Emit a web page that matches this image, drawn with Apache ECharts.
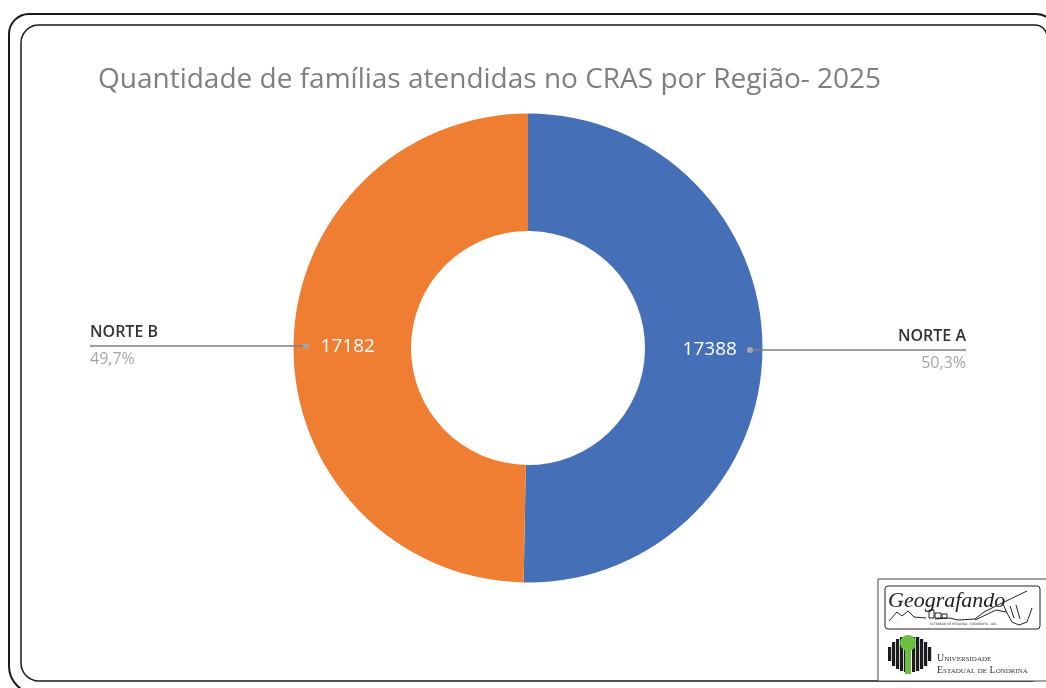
<!DOCTYPE html>
<html>
<head>
<meta charset="utf-8">
<title>Famílias atendidas no CRAS</title>
<style>
  html, body { margin: 0; padding: 0; background: #fff; }
  #chart { width: 1046px; height: 688px; }
</style>
<script src="https://cdn.jsdelivr.net/npm/echarts@6/dist/echarts.min.js"></script>
</head>
<body>
<div id="chart"></div>
<script>
const titleText = 'Quantidade de famílias atendidas no CRAS por Região- 2025'
const regions = ['NORTE A', 'NORTE B']
const families = [17388, 17182]
const colors = ['#4570B7', '#F07E32']
const edgeDistances = [80, 90]
const valueOffsets = [[3, 0], [-1.5, 0]]

const center = [528, 348]
const dotRadius = 222
const total = families[0] + families[1]

// grey dots at the start of each callout, placed from the slice mid angles
function calloutDots() {
  let start = 0
  return families.map(function(v) {
    const mid = (start + v / 2) / total * Math.PI * 2
    start += v
    return {
      type: 'circle',
      silent: true,
      z: 20,
      shape: {
        cx: center[0] + dotRadius * Math.sin(mid),
        cy: center[1] - dotRadius * Math.cos(mid),
        r: 3
      },
      style: { fill: '#a5a5a5' }
    }
  })
}

function frame() {
  return [
    {
      type: 'rect',
      silent: true,
      shape: { x: 9, y: 14, width: 1047, height: 680, r: [20, 20, 0, 28] },
      style: { fill: 'transparent', stroke: '#1a1a1a', lineWidth: 2 }
    },
    {
      type: 'rect',
      silent: true,
      shape: { x: 21, y: 25, width: 1026, height: 656, r: [18, 12, 16, 18] },
      style: { fill: 'transparent', stroke: '#1a1a1a', lineWidth: 1.5 }
    }
  ]
}

function logo() {
  const ink = '#222'
  const stroke = function(points, width) {
    return {
      type: 'polyline',
      silent: true,
      z: 3,
      shape: { points: points },
      style: { fill: 'transparent', stroke: ink, lineWidth: width || 1 }
    }
  }
  const items = [
    { type: 'rect', silent: true, z: 1, shape: { x: 878, y: 579, width: 170, height: 102 }, style: { fill: '#fff', stroke: '#444', lineWidth: 1 } },
    { type: 'rect', silent: true, z: 2, shape: { x: 885, y: 586, width: 155, height: 43, r: 3 }, style: { fill: '#fff', stroke: '#222', lineWidth: 1 } },
    { type: 'text', silent: true, z: 3, style: { x: 888, y: 590, text: 'Geografando', fill: ink, font: 'italic 22px "Liberation Serif"' } },
    { type: 'text', silent: true, z: 3, style: { x: 930, y: 623, text: 'EXTENSÃO DE PESQUISA - GEOGRAFIA - UEL', fill: '#333', font: '3px "DejaVu Sans"' } }
  ]
  const sketches = [
    [[889, 621], [897, 612], [902, 616], [908, 611], [914, 617], [926, 618]],
    [[935, 619], [950, 618], [958, 620], [975, 619], [984, 612], [1002, 603], [1027, 591]],
    [[1003, 604], [1007, 613], [1012, 622], [1019, 625], [1027, 622], [1032, 608]],
    [[1010, 606], [1014, 618]],
    [[1016, 605], [1020, 619]],
    [[975, 620], [996, 610], [1006, 612]]
  ]
  sketches.forEach(function(p) { items.push(stroke(p, 1)) })
  items.push(
    { type: 'rect', silent: true, z: 3, shape: { x: 929, y: 610, width: 5, height: 8 }, style: { fill: 'transparent', stroke: ink, lineWidth: 1 } },
    { type: 'rect', silent: true, z: 3, shape: { x: 935, y: 613, width: 6, height: 5 }, style: { fill: 'transparent', stroke: ink, lineWidth: 1 } },
    { type: 'rect', silent: true, z: 3, shape: { x: 942, y: 614, width: 5, height: 4 }, style: { fill: 'transparent', stroke: ink, lineWidth: 1 } }
  )
  // university mark: vertical stripes around the green tree
  const stripes = [[888, 647, 661], [892, 642, 666], [896, 639, 669], [900, 637, 671], [904, 637, 672], [912, 637, 672], [916, 637, 671], [920, 639, 669], [924, 642, 666], [928, 647, 661]]
  stripes.forEach(function(s) {
    items.push({ type: 'rect', silent: true, z: 3, shape: { x: s[0], y: s[1], width: 3.2, height: s[2] - s[1] }, style: { fill: '#1c1c1c' } })
  })
  items.push(
    { type: 'rect', silent: true, z: 4, shape: { x: 905, y: 645, width: 6, height: 29 }, style: { fill: '#6fbe44' } },
    { type: 'circle', silent: true, z: 4, shape: { cx: 908, cy: 643, r: 8 }, style: { fill: '#6fbe44' } },
    { type: 'text', silent: true, z: 3, style: { x: 937, y: 653, text: 'Universidade', fill: '#333', font: 'small-caps 10px "Liberation Serif"' } },
    { type: 'text', silent: true, z: 3, style: { x: 937, y: 665, text: 'Estadual de Londrina', fill: '#333', font: 'small-caps 10px "Liberation Serif"' } }
  )
  return items
}

const chart = echarts.init(document.getElementById('chart'))

chart.setOption({
  animation: false,
  title: {
    text: titleText,
    left: 93,
    top: 61,
    textStyle: {
      color: '#7f7f7f',
      fontFamily: 'Open Sans',
      fontSize: 28,
      fontWeight: 'normal'
    }
  },
  graphic: frame().concat(logo()).concat(calloutDots()),
  series: [
    {
      type: 'pie',
      silent: true,
      center: center,
      radius: [117, 234.5],
      startAngle: 90,
      clockwise: true,
      z: 2,
      label: {
        position: 'inner',
        color: '#fff',
        fontFamily: 'Open Sans',
        fontSize: 19,
        formatter: '{c}'
      },
      labelLine: { show: false },
      data: regions.map(function(name, i) {
        return {
          name: name,
          value: families[i],
          itemStyle: { color: colors[i] },
          label: { offset: valueOffsets[i] }
        }
      })
    },
    {
      // invisible copy that carries the callouts out from near the ring's edge
      type: 'pie',
      silent: true,
      center: center,
      radius: [0, dotRadius],
      startAngle: 90,
      clockwise: true,
      z: 3,
      itemStyle: { color: 'transparent' },
      label: {
        alignTo: 'edge',
        fontFamily: 'Open Sans',
        formatter: function(p) {
          return '{name|' + p.name + '}\n{pct|' + p.percent.toFixed(1).replace('.', ',') + '%}'
        },
        rich: {
          name: { color: '#333333', fontFamily: 'Open Sans', fontSize: 16, fontWeight: 600, lineHeight: 27 },
          pct: { color: '#a6a6a6', fontFamily: 'Open Sans', fontSize: 16, lineHeight: 27 }
        }
      },
      labelLine: {
        show: true,
        length: 1,
        length2: 0,
        lineStyle: { color: '#7f7f7f', width: 1.5 }
      },
      labelLayout: function(params) {
        const isLeft = params.labelRect.x < 528
        const points = params.labelLinePoints
        points[2][0] = isLeft ? params.labelRect.x : params.labelRect.x + params.labelRect.width
        return { labelLinePoints: points }
      },
      data: regions.map(function(name, i) {
        return {
          name: name,
          value: families[i],
          label: { edgeDistance: edgeDistances[i] }
        }
      })
    }
  ]
})
</script>
</body>
</html>
